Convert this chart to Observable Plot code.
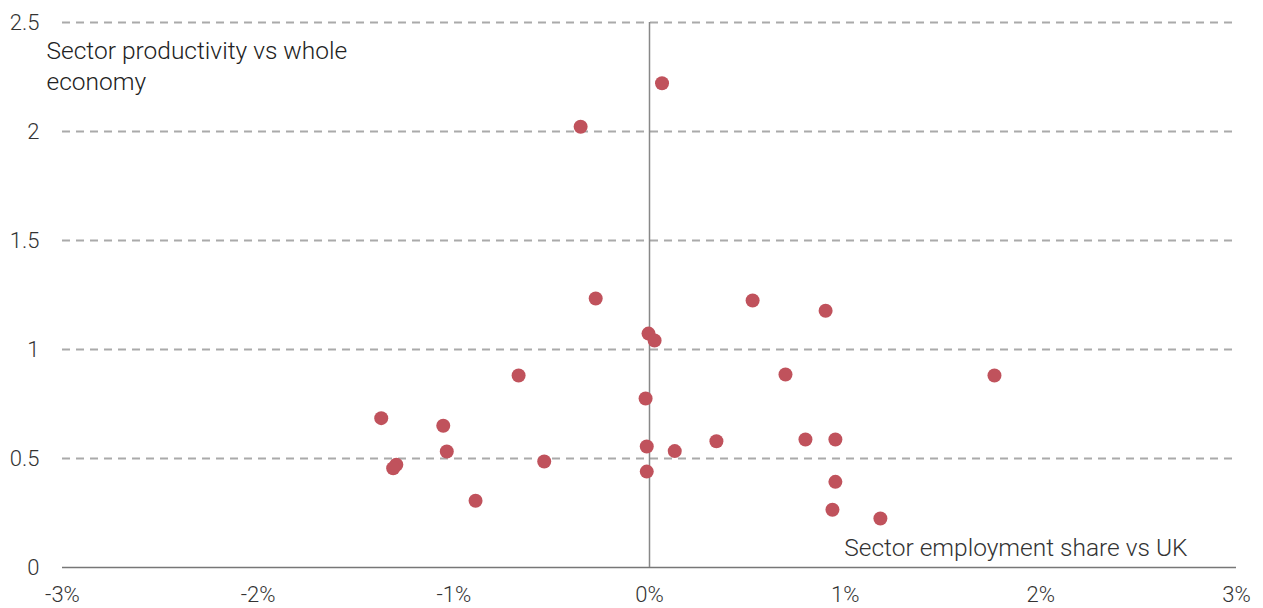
<!DOCTYPE html>
<html>
<head>
<meta charset="utf-8">
<script src="https://cdn.jsdelivr.net/npm/d3@7"></script>
<script src="https://cdn.jsdelivr.net/npm/@observablehq/plot@0.6"></script>
<style>
  html, body { margin: 0; padding: 0; background: #fff; }
  #chart svg { display: block; }
</style>
</head>
<body>
<div id="chart"></div>
<script>
// Sector employment share vs UK (percentage points)
const employmentShare = [0.064, -0.352, -0.275, 0.527, 0.900, -0.005, 0.026, -0.669, 0.695, 1.763,
  -0.020, -1.371, -1.054, -1.036, -1.294, -1.310, -0.538, -0.014, -0.014, 0.129,
  0.342, 0.797, 0.950, 0.950, -0.889, 0.935, 1.180];
// Sector productivity vs whole economy (ratio)
const productivity = [2.221, 2.022, 1.234, 1.225, 1.178, 1.073, 1.041, 0.881, 0.885, 0.881,
  0.775, 0.685, 0.650, 0.532, 0.471, 0.455, 0.486, 0.555, 0.440, 0.534,
  0.579, 0.587, 0.587, 0.393, 0.306, 0.265, 0.225];
const xTicks = [-3, -2, -1, 0, 1, 2, 3];
const yTicks = [0, 0.5, 1, 1.5, 2, 2.5];
const gridTicks = [0.5, 1, 1.5, 2, 2.5];
const yTitle = "Sector productivity vs whole\neconomy";
const xTitle = "Sector employment share vs UK";

const points = employmentShare.map((x, i) => ({x, y: productivity[i]}));

const font = "Roboto, 'Noto Sans', sans-serif";

const chart = Plot.plot({
  width: 1263,
  height: 608,
  marginTop: 22,
  marginBottom: 41,
  marginLeft: 62,
  marginRight: 27,
  style: {fontFamily: font, background: "#fff"},
  x: {domain: [-3, 3]},
  y: {domain: [0, 2.5]},
  marks: [
    Plot.ruleY(gridTicks, {stroke: "#aaaaaa", strokeWidth: 2, strokeDasharray: "8,6"}),
    Plot.ruleY([0], {stroke: "#777777", strokeWidth: 1.5}),
    Plot.ruleX([0], {y1: 0, y2: 2.5, stroke: "#888888", strokeWidth: 1.5}),
    Plot.axisX({ticks: xTicks, tickFormat: d => `${d}%`, tickSize: 0, tickPadding: 19,
      fontSize: 22, fill: "#333", fontWeight: 300, label: null}),
    Plot.axisY({ticks: yTicks, tickFormat: d => `${d}`, tickSize: 0, tickPadding: 23,
      fontSize: 22, fill: "#333", fontWeight: 300, label: null}),
    Plot.dot(points, {x: "x", y: "y", r: 7, fill: "#c0525c", stroke: "none"}),
    Plot.text([yTitle], {frameAnchor: "top-left", dx: -16, dy: 15, textAnchor: "start",
      lineAnchor: "top", lineHeight: 1.25, fontSize: 24.5, fontWeight: 300, fill: "#222"}),
    Plot.text([xTitle], {frameAnchor: "bottom-right", dx: -49, dy: -12, textAnchor: "end",
      lineAnchor: "bottom", fontSize: 24.5, fontWeight: 300, fill: "#333"})
  ]
});
document.getElementById("chart").appendChild(chart);
</script>
</body>
</html>
